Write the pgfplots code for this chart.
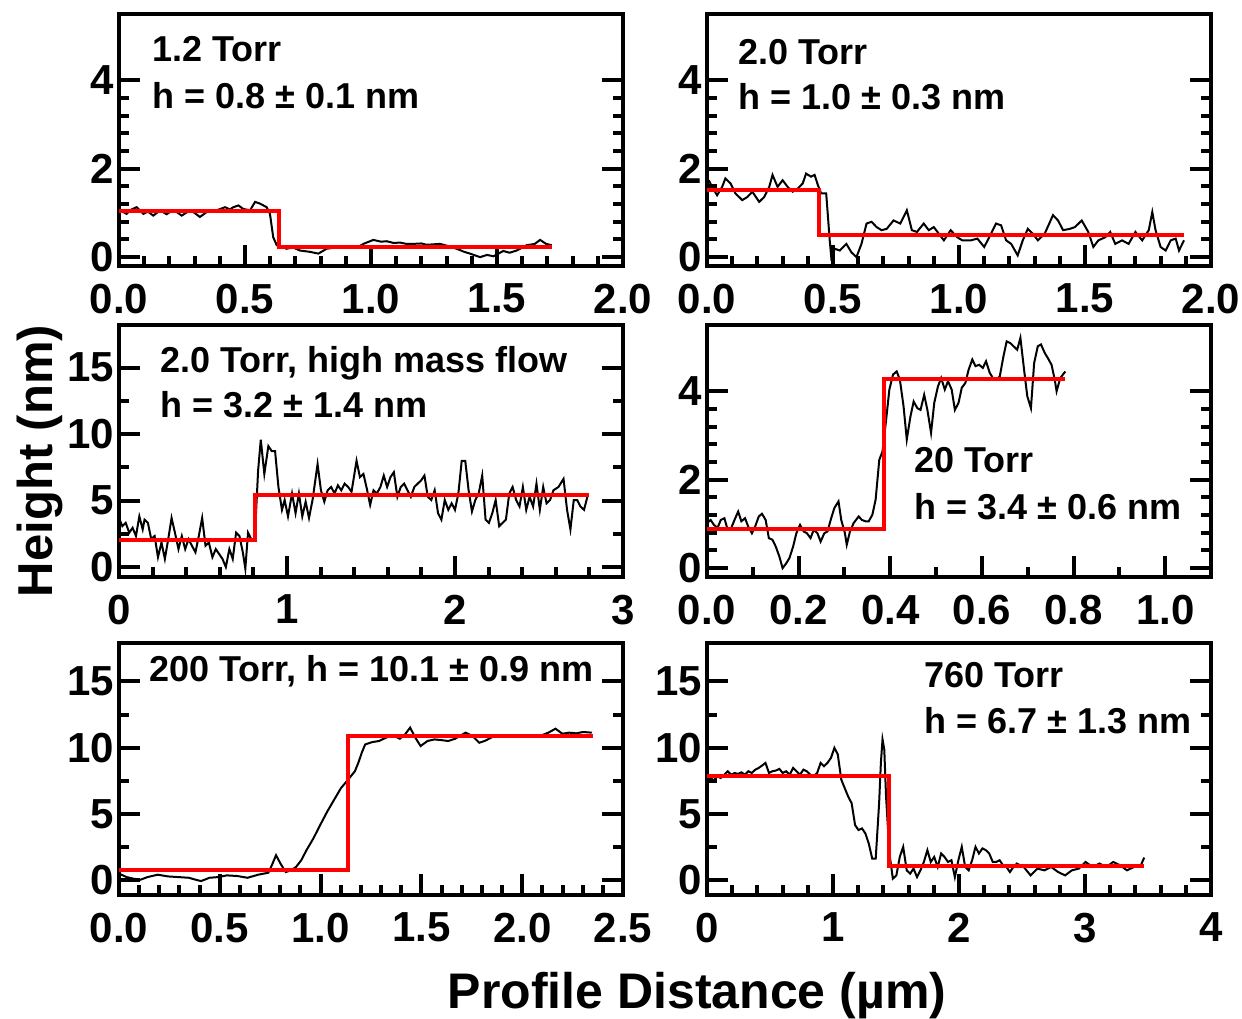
\documentclass[border=0pt]{standalone}
\usepackage{fontspec}
\setmainfont{Liberation Sans}
\usepackage{pgfplots}
\pgfplotsset{compat=1.18}
\pgfplotsset{
  panel/.style={
    scale only axis, width=252pt, height=126pt,
    axis line style={line width=2pt},
    tick align=inside,
    xtick pos=left, ytick pos=both,
    major tick length=10.5pt, minor tick length=5pt,
    tick style={line width=2pt, black},
    tick label style={font=\fontsize{21}{21}\selectfont\bfseries},
    xticklabel style={yshift=-5.5pt},
    yticklabel style={xshift=1pt},
    /pgf/number format/assume math mode=true,
  },
  trace/.style={black, line width=1pt, no markers},
  fit/.style={red, line width=2pt, no markers},
}
\newcommand{\ann}{\fontsize{18}{18}\selectfont\bfseries}
\begin{document}
\begin{tikzpicture}
\path[use as bounding box] (0,0) rectangle (621pt,509pt);

% Panel 1: 1.2 Torr
\begin{axis}[panel, at={(59.5pt,376pt)}, anchor=south west,
  xmin=0, xmax=2, ymin=-0.2, ymax=5.5,
  xtick={0,0.5,1,1.5,2}, xticklabels={0.0,0.5,1.0,1.5,2.0}, minor x tick num=4,
  ytick={0,2,4}, minor y tick num=4]
\addplot[trace] coordinates {(0.004,1.06) (0.030,0.98) (0.050,1.08) (0.070,1.13) (0.097,0.98) (0.115,1.03) (0.136,0.94) (0.163,1.06) (0.189,0.97) (0.210,1.05) (0.229,1.02) (0.249,0.94) (0.282,1.06) (0.300,1.00) (0.321,0.91) (0.348,1.02) (0.388,1.06) (0.421,1.13) (0.440,1.08) (0.454,1.13) (0.474,1.17) (0.493,1.09) (0.520,1.06) (0.540,1.25) (0.560,1.21) (0.586,1.13) (0.599,0.98) (0.612,0.45) (0.626,0.27) (0.665,0.19) (0.690,0.22) (0.718,0.15) (0.758,0.12) (0.791,0.08) (0.824,0.19) (0.860,0.22) (0.890,0.23) (0.943,0.21) (0.970,0.30) (1.009,0.39) (1.040,0.35) (1.062,0.36) (1.090,0.32) (1.115,0.33) (1.140,0.30) (1.168,0.30) (1.200,0.31) (1.221,0.28) (1.274,0.30) (1.300,0.26) (1.340,0.19) (1.370,0.12) (1.393,0.08) (1.433,0.00) (1.460,0.05) (1.486,0.02) (1.525,0.14) (1.550,0.10) (1.578,0.15) (1.618,0.27) (1.650,0.30) (1.671,0.39) (1.695,0.30) (1.717,0.27)};
\addplot[fit] coordinates {(0,1.04) (0.635,1.04) (0.635,0.23) (1.717,0.23)};
\end{axis}

% Panel 2: 2.0 Torr
\begin{axis}[panel, at={(353.5pt,376pt)}, anchor=south west,
  xmin=0, xmax=2, ymin=-0.2, ymax=5.5,
  xtick={0,0.5,1,1.5,2}, xticklabels={0.0,0.5,1.0,1.5,2.0}, minor x tick num=4,
  ytick={0,2,4}, minor y tick num=4]
\addplot[trace] coordinates {(0.007,1.74) (0.02,1.59) (0.04,1.40) (0.06,1.59) (0.073,1.78) (0.093,1.67) (0.113,1.44) (0.14,1.29) (0.16,1.36) (0.18,1.48) (0.207,1.25) (0.227,1.36) (0.247,1.59) (0.26,1.86) (0.28,1.59) (0.30,1.74) (0.32,1.59) (0.34,1.48) (0.36,1.55) (0.38,1.67) (0.393,1.89) (0.413,1.82) (0.427,1.86) (0.44,1.63) (0.453,1.44) (0.473,1.44) (0.487,0.38) (0.493,0.0) (0.507,0.19) (0.527,0.15) (0.553,0.30) (0.573,0.11) (0.593,0.0) (0.613,0.30) (0.633,0.76) (0.653,0.80) (0.673,0.68) (0.693,0.61) (0.713,0.64) (0.74,0.83) (0.767,0.76) (0.78,0.91) (0.793,1.06) (0.813,0.61) (0.833,0.57) (0.86,0.76) (0.88,0.61) (0.90,0.68) (0.92,0.53) (0.94,0.38) (0.967,0.61) (0.993,0.45) (1.013,0.38) (1.047,0.38) (1.073,0.42) (1.10,0.23) (1.127,0.53) (1.147,0.76) (1.167,0.72) (1.187,0.38) (1.207,0.30) (1.233,0.04) (1.253,0.38) (1.273,0.64) (1.293,0.53) (1.313,0.38) (1.34,0.53) (1.373,0.95) (1.393,0.83) (1.413,0.61) (1.44,0.64) (1.46,0.68) (1.487,0.83) (1.513,0.57) (1.533,0.23) (1.553,0.38) (1.58,0.45) (1.60,0.57) (1.62,0.30) (1.647,0.38) (1.673,0.30) (1.70,0.57) (1.727,0.38) (1.753,0.61) (1.767,1.02) (1.78,0.61) (1.80,0.23) (1.82,0.15) (1.84,0.38) (1.86,0.42) (1.873,0.15) (1.893,0.38)};
\addplot[fit] coordinates {(0,1.52) (0.443,1.52) (0.443,0.51) (1.893,0.51)};
\end{axis}

% Panel 3: 2.0 Torr, high mass flow
\begin{axis}[panel, at={(59.5pt,220.5pt)}, anchor=south west,
  xmin=0, xmax=3, ymin=-0.75, ymax=18.2,
  xtick={0,1,2,3}, minor x tick num=4,
  ytick={0,5,10,15}, minor y tick num=1]
\addplot[trace] coordinates {(0.004,3.56) (0.020,3.07) (0.040,3.32) (0.061,2.58) (0.081,2.95) (0.101,2.33) (0.121,3.81) (0.141,2.83) (0.152,3.56) (0.172,3.32) (0.192,2.09) (0.212,2.33) (0.232,0.74) (0.253,1.84) (0.273,0.61) (0.293,2.09) (0.313,3.69) (0.333,2.58) (0.354,1.35) (0.374,2.33) (0.394,1.35) (0.414,2.09) (0.434,1.60) (0.455,1.11) (0.475,2.33) (0.495,3.69) (0.515,1.60) (0.535,1.84) (0.556,0.74) (0.576,1.35) (0.596,0.98) (0.616,0.61) (0.636,0.00) (0.657,1.35) (0.677,0.61) (0.697,2.58) (0.717,2.33) (0.737,1.11) (0.752,-0.12) (0.768,2.58) (0.788,2.09) (0.808,2.09) (0.828,7.25) (0.844,9.58) (0.865,7.00) (0.889,9.09) (0.909,8.72) (0.929,8.72) (0.949,6.02) (0.970,4.30) (0.986,5.04) (1.006,3.81) (1.030,5.53) (1.051,4.05) (1.071,5.53) (1.091,3.81) (1.111,4.91) (1.131,3.69) (1.152,5.04) (1.182,7.74) (1.202,5.77) (1.222,4.91) (1.242,5.77) (1.263,6.02) (1.283,5.53) (1.303,6.14) (1.323,5.77) (1.343,6.27) (1.364,6.02) (1.384,5.65) (1.414,7.99) (1.434,6.76) (1.455,7.00) (1.475,5.90) (1.495,4.67) (1.515,5.77) (1.535,5.53) (1.556,6.02) (1.576,6.88) (1.596,6.02) (1.616,6.76) (1.636,7.13) (1.657,5.28) (1.677,6.02) (1.697,6.27) (1.717,5.77) (1.737,5.28) (1.758,6.02) (1.778,6.27) (1.798,6.51) (1.818,6.88) (1.838,5.28) (1.859,5.04) (1.879,5.77) (1.899,4.05) (1.919,3.56) (1.939,5.04) (1.960,4.30) (1.980,4.79) (2.000,4.30) (2.020,5.53) (2.040,7.99) (2.061,7.99) (2.081,5.77) (2.101,4.18) (2.121,5.04) (2.141,5.53) (2.162,6.88) (2.182,3.56) (2.202,3.32) (2.222,4.05) (2.242,5.04) (2.263,3.07) (2.283,3.32) (2.303,3.56) (2.323,5.53) (2.343,6.02) (2.364,5.04) (2.384,4.55) (2.404,6.02) (2.424,4.30) (2.444,5.28) (2.465,4.55) (2.485,6.27) (2.505,4.30) (2.525,6.02) (2.545,4.79) (2.566,5.04) (2.586,5.77) (2.616,6.02) (2.646,6.63) (2.667,4.30) (2.687,2.83) (2.707,5.04) (2.727,5.04) (2.747,4.55) (2.768,4.30) (2.788,5.28)};
\addplot[fit] coordinates {(0,2.05) (0.81,2.05) (0.81,5.4) (2.80,5.4)};
\end{axis}

% Panel 4: 20 Torr
\begin{axis}[panel, at={(353.5pt,220.5pt)}, anchor=south west,
  xmin=0, xmax=1.1, ymin=-0.2, ymax=5.5,
  xtick={0,0.2,0.4,0.6,0.8,1.0}, xticklabels={0.0,0.2,0.4,0.6,0.8,1.0}, minor x tick num=1,
  ytick={0,2,4}, minor y tick num=4]
\addplot[trace] coordinates {(0.000,1.02) (0.008,1.09) (0.015,0.98) (0.023,0.91) (0.030,1.09) (0.038,1.13) (0.045,0.87) (0.053,0.91) (0.060,1.09) (0.068,1.28) (0.075,1.06) (0.083,1.13) (0.090,0.94) (0.098,0.79) (0.105,0.94) (0.113,1.17) (0.120,1.23) (0.128,1.09) (0.135,0.68) (0.143,0.64) (0.150,0.49) (0.158,0.26) (0.165,0.00) (0.173,0.11) (0.180,0.23) (0.188,0.49) (0.195,0.79) (0.203,0.98) (0.211,0.83) (0.218,0.79) (0.226,0.68) (0.233,0.87) (0.241,0.79) (0.248,0.60) (0.256,0.79) (0.263,0.83) (0.271,1.13) (0.278,1.36) (0.287,1.51) (0.293,1.09) (0.301,0.79) (0.305,0.53) (0.312,0.83) (0.320,1.02) (0.331,1.17) (0.338,1.09) (0.346,1.06) (0.353,1.06) (0.361,1.21) (0.368,1.55) (0.376,2.45) (0.383,2.64) (0.391,3.36) (0.398,4.04) (0.406,4.38) (0.414,4.45) (0.421,4.26) (0.429,3.66) (0.436,2.91) (0.444,3.43) (0.451,3.77) (0.459,3.62) (0.466,3.58) (0.474,3.92) (0.481,3.58) (0.489,3.06) (0.496,3.74) (0.504,4.11) (0.511,4.30) (0.519,4.04) (0.526,4.23) (0.534,4.04) (0.541,3.58) (0.549,3.74) (0.556,4.08) (0.564,4.19) (0.571,4.49) (0.579,4.72) (0.586,4.57) (0.594,4.60) (0.602,4.53) (0.609,4.68) (0.617,4.42) (0.624,4.30) (0.632,4.26) (0.639,4.34) (0.647,4.79) (0.654,5.13) (0.662,5.09) (0.669,5.02) (0.677,4.94) (0.684,5.21) (0.692,4.49) (0.699,3.89) (0.707,3.62) (0.714,4.64) (0.722,5.02) (0.729,5.06) (0.737,4.87) (0.744,4.75) (0.752,4.60) (0.759,4.26) (0.763,4.00) (0.771,4.30) (0.782,4.45)};
\addplot[fit] coordinates {(0,0.88) (0.387,0.88) (0.387,4.29) (0.782,4.29)};
\end{axis}

% Panel 5: 200 Torr
\begin{axis}[panel, at={(59.5pt,61.5pt)}, anchor=south west,
  xmin=0, xmax=2.5, ymin=-1.1, ymax=17.9,
  xtick={0,0.5,1,1.5,2,2.5}, xticklabels={0.0,0.5,1.0,1.5,2.0,2.5}, minor x tick num=4,
  ytick={0,5,10,15}, minor y tick num=1]
\addplot[trace] coordinates {(0,0.51) (0.038,0.25) (0.072,0.13) (0.106,0.05) (0.141,0.25) (0.192,0.43) (0.244,0.30) (0.295,0.25) (0.346,0.20) (0.381,0.05) (0.407,-0.05) (0.449,0.20) (0.492,0.25) (0.535,0.38) (0.587,0.33) (0.638,0.20) (0.690,0.43) (0.741,0.58) (0.758,1.14) (0.779,1.90) (0.801,1.27) (0.827,0.63) (0.852,0.76) (0.878,1.01) (0.904,1.52) (0.930,2.28) (0.964,3.16) (0.998,4.18) (1.033,5.19) (1.067,6.08) (1.101,6.96) (1.136,7.59) (1.170,8.23) (1.187,8.86) (1.204,9.62) (1.221,10.25) (1.256,10.43) (1.290,10.51) (1.324,10.76) (1.358,10.96) (1.393,10.68) (1.419,11.01) (1.444,11.52) (1.470,10.76) (1.496,10.13) (1.530,10.51) (1.564,10.63) (1.599,10.58) (1.633,10.51) (1.667,10.68) (1.719,11.14) (1.753,10.89) (1.787,10.38) (1.813,10.51) (1.856,10.84) (1.907,10.89) (1.959,10.89) (2.027,10.89) (2.096,10.94) (2.130,11.14) (2.165,11.44) (2.199,11.06) (2.233,11.14) (2.268,11.09) (2.302,11.19) (2.345,11.14)};
\addplot[fit] coordinates {(0,0.76) (1.136,0.76) (1.136,10.9) (2.353,10.9)};
\end{axis}

% Panel 6: 760 Torr
\begin{axis}[panel, at={(353.5pt,61.5pt)}, anchor=south west,
  xmin=0, xmax=4, ymin=-1.1, ymax=17.9,
  xtick={0,1,2,3,4}, minor x tick num=4,
  ytick={0,5,10,15}, minor y tick num=1]
\addplot[trace] coordinates {(0,7.59) (0.027,7.72) (0.055,7.54) (0.082,7.85) (0.109,7.72) (0.137,7.97) (0.164,8.23) (0.191,7.97) (0.219,8.10) (0.246,8.03) (0.273,8.15) (0.301,7.97) (0.328,8.23) (0.355,8.10) (0.383,8.35) (0.410,8.48) (0.437,8.66) (0.464,8.86) (0.492,8.10) (0.519,8.23) (0.546,8.28) (0.574,8.41) (0.601,8.10) (0.628,8.23) (0.656,7.97) (0.683,8.48) (0.710,8.23) (0.738,7.97) (0.765,8.35) (0.792,8.23) (0.820,7.97) (0.847,7.85) (0.874,8.10) (0.902,8.86) (0.929,8.61) (0.956,8.86) (0.984,9.24) (1.011,10.00) (1.038,9.49) (1.066,7.59) (1.093,6.96) (1.120,6.33) (1.148,5.82) (1.175,4.18) (1.202,3.80) (1.230,3.92) (1.257,3.54) (1.284,2.78) (1.311,1.65) (1.339,1.65) (1.366,5.82) (1.380,8.86) (1.393,10.63) (1.407,9.87) (1.421,6.33) (1.448,2.03) (1.475,0.13) (1.503,0.38) (1.530,1.77) (1.557,2.53) (1.585,0.76) (1.612,0.51) (1.639,0.89) (1.667,0.25) (1.694,0.76) (1.721,1.39) (1.749,2.28) (1.776,1.39) (1.803,1.77) (1.831,1.01) (1.858,2.03) (1.885,1.77) (1.913,1.39) (1.940,1.52) (1.967,0.25) (1.995,1.52) (2.022,2.53) (2.049,1.01) (2.077,0.76) (2.104,1.52) (2.131,2.53) (2.158,2.03) (2.186,2.41) (2.213,2.28) (2.240,2.03) (2.268,1.39) (2.295,1.39) (2.322,1.52) (2.350,1.14) (2.377,1.01) (2.404,0.63) (2.432,1.01) (2.459,1.27) (2.514,1.01) (2.568,0.38) (2.623,0.89) (2.678,0.76) (2.732,1.01) (2.787,0.63) (2.842,0.38) (2.896,0.76) (2.951,0.89) (3.005,1.39) (3.060,1.01) (3.115,1.27) (3.169,1.01) (3.224,1.39) (3.279,1.14) (3.333,0.76) (3.388,1.01) (3.443,1.14) (3.470,1.72)};
\addplot[fit] coordinates {(0,7.85) (1.448,7.85) (1.448,1.09) (3.47,1.09)};
\end{axis}

% Annotations
\node[anchor=base west, inner sep=0pt] at (75.9pt,478.2pt) {\ann 1.2 Torr};
\node[anchor=base west, inner sep=0pt] at (75.9pt,454.9pt) {\ann h = 0.8 ± 0.1 nm};
\node[anchor=base west, inner sep=0pt] at (369pt,476.5pt) {\ann 2.0 Torr};
\node[anchor=base west, inner sep=0pt] at (369pt,454pt) {\ann h = 1.0 ± 0.3 nm};
\node[anchor=base west, inner sep=0pt] at (80pt,322.5pt) {\ann 2.0 Torr, high mass flow};
\node[anchor=base west, inner sep=0pt] at (80pt,300pt) {\ann h = 3.2 ± 1.4 nm};
\node[anchor=base west, inner sep=0pt] at (457pt,272.5pt) {\ann 20 Torr};
\node[anchor=base west, inner sep=0pt] at (457pt,249pt) {\ann h = 3.4 ± 0.6 nm};
\node[anchor=base west, inner sep=0pt] at (74.5pt,168pt) {\ann 200 Torr, h = 10.1 ± 0.9 nm};
\node[anchor=base west, inner sep=0pt] at (462pt,165pt) {\ann 760 Torr};
\node[anchor=base west, inner sep=0pt] at (462pt,142.5pt) {\ann h = 6.7 ± 1.3 nm};

% Axis labels
\node[rotate=90, anchor=base, inner sep=0pt] at (26pt,278.5pt) {\fontsize{24.5}{24.5}\selectfont\bfseries Height (nm)};
\node[anchor=base, inner sep=0pt] at (348.5pt,5pt) {\fontsize{25}{25}\selectfont\bfseries Profile Distance (µm)};
\end{tikzpicture}
\end{document}
